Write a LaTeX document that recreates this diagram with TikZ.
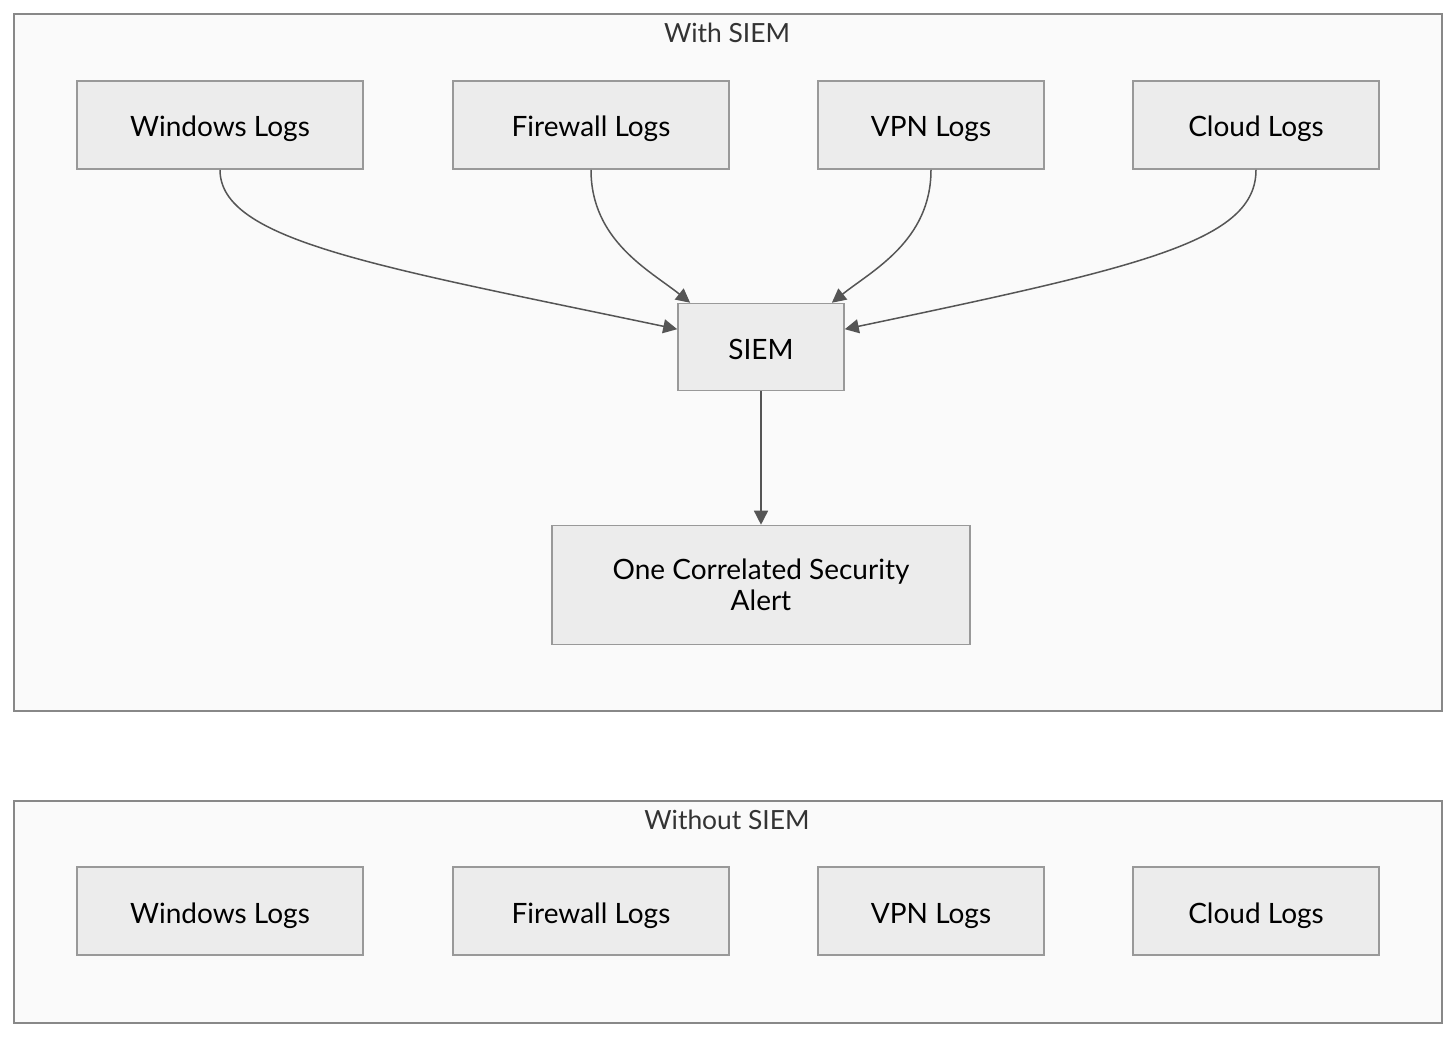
\documentclass[tikz,border=0pt]{standalone}
\usepackage{fontspec}
\setmainfont{Lato}
\usepackage{tikz}
\usetikzlibrary{positioning,arrows.meta}
\usepackage{xcolor}
\definecolor{frameline}{RGB}{136,136,136}
\definecolor{framefill}{RGB}{250,250,250}
\definecolor{boxfill}{RGB}{236,236,236}
\definecolor{boxline}{RGB}{153,153,153}
\definecolor{edgeline}{RGB}{85,85,85}

\begin{document}
\begin{tikzpicture}[x=0.5pt, y=-0.5pt,
  frame/.style={draw=frameline, fill=framefill, line width=0.8pt},
  title/.style={font=\fontsize{13.2}{16}\selectfont, text=black!80},
  box/.style={draw=boxline, fill=boxfill, line width=0.8pt,
              minimum height=44pt, inner sep=0pt,
              font=\fontsize{14}{15.5}\selectfont},
  logbox/.style={box, text height=12pt, text depth=0pt},
  flow/.style={draw=edgeline, line width=0.75pt,
               -{Triangle[length=7pt, width=7pt]}},
  ]
  \useasboundingbox (0,0) rectangle (1456,1038);

  % with SIEM
  \draw[frame] (14,14) rectangle (1442,711);
  \node[title] (withT) at (727,33) {With SIEM};

  \node[logbox, minimum width=143pt] (win) at (220,125) {Windows Logs};
  \node[logbox, minimum width=138pt] (fw) at (591,125) {Firewall Logs};
  \node[logbox, minimum width=113pt] (vpn) at (931,125) {VPN Logs};
  \node[logbox, minimum width=123pt] (cloud) at (1256,125) {Cloud Logs};

  \node[logbox, minimum width=83pt, minimum height=43.5pt] (siem) at (761,347) {SIEM};
  \node[box, minimum width=209pt, minimum height=59.5pt, align=center] (alert)
    at (761,585) {One Correlated Security\\Alert};

  \draw[flow] (win.south) .. controls +(0,71) and +(-300,-63) .. (siem.168);
  \draw[flow] (fw.south) .. controls +(0,71) and +(-40,-32) .. (siem.148);
  \draw[flow] (vpn.south) .. controls +(0,71) and +(40,-32) .. (siem.32);
  \draw[flow] (cloud.south) .. controls +(0,71) and +(300,-63) .. (siem.12);
  \draw[flow] (siem) -- (alert);

  % without SIEM
  \draw[frame] (14,801) rectangle (1442,1023);
  \node[title] (withoutT) at (727,820) {Without SIEM};

  \node[logbox, minimum width=143pt] (winB) at (220,911) {Windows Logs};
  \node[logbox, minimum width=138pt] (fwB) at (591,911) {Firewall Logs};
  \node[logbox, minimum width=113pt] (vpnB) at (931,911) {VPN Logs};
  \node[logbox, minimum width=123pt] (cloudB) at (1256,911) {Cloud Logs};
\end{tikzpicture}
\end{document}
